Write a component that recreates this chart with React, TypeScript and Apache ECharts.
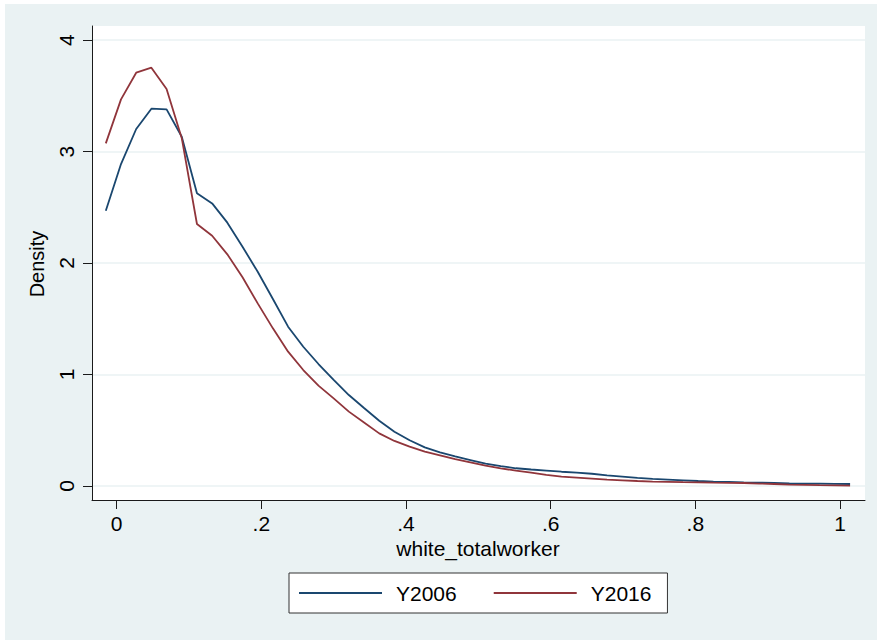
import React, { useEffect, useRef } from "react";
import * as echarts from "echarts";

const xGrid = [
  -0.015, 0.006, 0.027, 0.048, 0.069, 0.09, 0.111, 0.132, 0.153, 0.174,
  0.195, 0.216, 0.237, 0.258, 0.279, 0.3, 0.321, 0.342, 0.363, 0.384,
  0.405, 0.426, 0.447, 0.468, 0.489, 0.51, 0.531, 0.552, 0.573, 0.594,
  0.615, 0.636, 0.657, 0.678, 0.699, 0.72, 0.741, 0.762, 0.783, 0.804,
  0.825, 0.846, 0.867, 0.888, 0.909, 0.93, 0.951, 0.972, 0.993, 1.014,
];

const y2006 = [
  2.469, 2.888, 3.202, 3.384, 3.378, 3.133, 2.625, 2.535, 2.362, 2.146,
  1.922, 1.677, 1.429, 1.249, 1.094, 0.951, 0.816, 0.7, 0.585, 0.487,
  0.41, 0.347, 0.302, 0.266, 0.233, 0.2, 0.179, 0.159, 0.148, 0.138,
  0.128, 0.12, 0.11, 0.096, 0.084, 0.072, 0.063, 0.057, 0.051, 0.045,
  0.04, 0.037, 0.033, 0.03, 0.027, 0.024, 0.022, 0.021, 0.019, 0.018,
];

const y2016 = [
  3.073, 3.468, 3.707, 3.752, 3.561, 3.12, 2.35, 2.245, 2.078, 1.872,
  1.638, 1.414, 1.205, 1.04, 0.9, 0.786, 0.667, 0.57, 0.472, 0.404,
  0.353, 0.308, 0.275, 0.242, 0.212, 0.182, 0.159, 0.137, 0.119, 0.099,
  0.084, 0.075, 0.066, 0.057, 0.051, 0.045, 0.04, 0.037, 0.034, 0.033,
  0.03, 0.028, 0.027, 0.022, 0.018, 0.013, 0.01, 0.007, 0.006, 0.003,
];

const seriesNames = ["Y2006", "Y2016"];
const xTickValues = [0, 0.2, 0.4, 0.6, 0.8, 1];
const xTickLabels = ["0", ".2", ".4", ".6", ".8", "1"];
const yTickValues = [0, 1, 2, 3, 4];
const yTickLabels = ["0", "1", "2", "3", "4"];
const xTitle = "white_totalworker";
const yTitle = "Density";

const FONT = "'Liberation Sans', Arial, Helvetica, sans-serif";
const BG = "#EAF2F3";

function labelFor(values: number[], labels: string[], v: number): string {
  for (let i = 0; i < values.length; i++) {
    if (Math.abs(values[i] - v) < 1e-6) return labels[i];
  }
  return "";
}

export default function App() {
  const ref = useRef<HTMLDivElement>(null);

  useEffect(() => {
    document.body.style.margin = "0";
    if (!ref.current) return;
    const chart = echarts.init(ref.current, null, { renderer: "svg" });
    const axisColor = "#1a1a1a";
    chart.setOption({
      animation: false,
      backgroundColor: BG,
      graphic: [
        { type: "rect", left: 0, top: 0, shape: { x: 0, y: 0, width: 5, height: 640 }, style: { fill: "#fff" }, silent: true },
        { type: "rect", left: 0, top: 0, shape: { x: 0, y: 0, width: 877, height: 4 }, style: { fill: "#fff" }, silent: true },
        {
          type: "text",
          x: 478,
          y: 548,
          style: { text: xTitle, fontSize: 21, fontFamily: FONT, fill: "#000", align: "center", verticalAlign: "middle" },
          silent: true,
        },
        {
          type: "text",
          x: 37,
          y: 264,
          rotation: Math.PI / 2,
          style: { text: yTitle, fontSize: 20, fontFamily: FONT, fill: "#000", align: "center", verticalAlign: "middle" },
          silent: true,
        },
      ],
      grid: {
        left: 92,
        top: 26,
        right: 12,
        bottom: 140,
        show: true,
        backgroundColor: "#fff",
        borderWidth: 0,
      },
      legend: {
        data: seriesNames,
        left: 289,
        top: 573,
        orient: "horizontal",
        icon: "rect",
        backgroundColor: "#fff",
        borderColor: "#333",
        borderWidth: 1,
        padding: [9.5, 16, 9.5, 10],
        itemWidth: 83,
        itemHeight: 2,
        itemGap: 37,
        textStyle: { fontSize: 21, fontFamily: FONT, color: "#000", padding: [0, 0, 0, 9] },
      },
      xAxis: {
        type: "value",
        min: -0.0341,
        max: 1.0346,
        axisLine: { show: true, onZero: false, lineStyle: { color: axisColor, width: 1 } },
        axisTick: { show: true, length: 9, customValues: xTickValues, lineStyle: { color: axisColor, width: 1 } },
        axisLabel: {
          show: true,
          customValues: xTickValues,
          margin: 13,
          fontSize: 21,
          fontFamily: FONT,
          color: "#000",
          formatter: (v: number) => labelFor(xTickValues, xTickLabels, v),
        },
        splitLine: { show: false },
      },
      yAxis: {
        type: "value",
        min: -0.1256,
        max: 4.126,
        axisLine: { show: true, onZero: false, lineStyle: { color: axisColor, width: 1 } },
        axisTick: { show: true, length: 9, customValues: yTickValues, lineStyle: { color: axisColor, width: 1 } },
        axisLabel: {
          show: true,
          customValues: yTickValues,
          rotate: 90,
          margin: 15,
          fontSize: 21,
          fontFamily: FONT,
          color: "#000",
          formatter: (v: number) => labelFor(yTickValues, yTickLabels, v),
        },
        splitLine: { show: true, lineStyle: { color: BG, width: 1.5 } },
      },
      series: [
        {
          name: seriesNames[0],
          type: "line",
          symbol: "none",
          data: xGrid.map((x, i) => [x, y2006[i]]),
          lineStyle: { color: "#1A476F", width: 1.8 },
          itemStyle: { color: "#1A476F" },
          z: 3,
        },
        {
          name: seriesNames[1],
          type: "line",
          symbol: "none",
          data: xGrid.map((x, i) => [x, y2016[i]]),
          lineStyle: { color: "#90353B", width: 1.8 },
          itemStyle: { color: "#90353B" },
          z: 3,
        },
      ],
    });
    return () => chart.dispose();
  }, []);

  return <div ref={ref} style={{ width: 877, height: 640 }} />;
}
